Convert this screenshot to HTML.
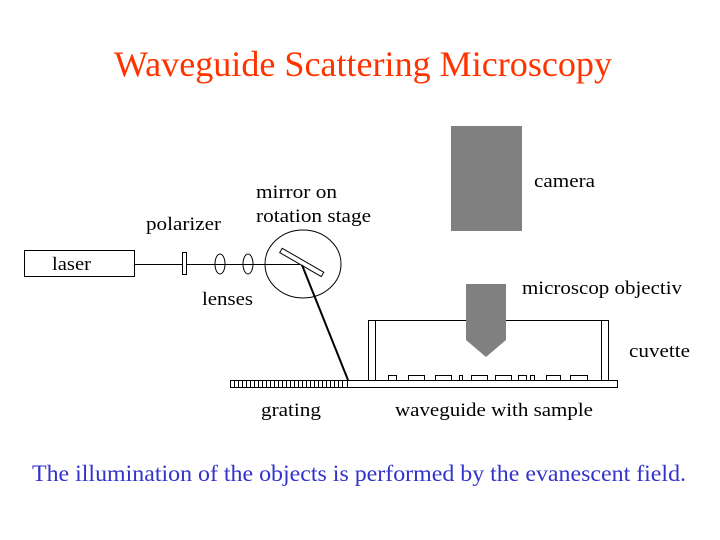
<!DOCTYPE html>
<html><head><meta charset="utf-8"><style>
html,body{margin:0;padding:0;background:#fff;}
svg{display:block}
text{font-family:"Liberation Serif",serif;}
</style></head><body>
<svg width="720" height="540" viewBox="0 0 720 540" xmlns="http://www.w3.org/2000/svg">
<text x="114" y="76" font-size="36" fill="#ff3300" textLength="498" lengthAdjust="spacingAndGlyphs">Waveguide Scattering Microscopy</text>
<text x="32" y="481" font-size="23" fill="#3333cc" textLength="654" lengthAdjust="spacingAndGlyphs">The illumination of the objects is performed by the evanescent field.</text>
<g font-size="19" fill="#000" lengthAdjust="spacingAndGlyphs">
<text x="52" y="270" textLength="39" lengthAdjust="spacingAndGlyphs">laser</text>
<text x="146" y="230" textLength="75" lengthAdjust="spacingAndGlyphs">polarizer</text>
<text x="202" y="305" textLength="51" lengthAdjust="spacingAndGlyphs">lenses</text>
<text x="256" y="198" textLength="81" lengthAdjust="spacingAndGlyphs">mirror on</text>
<text x="256" y="222" textLength="115" lengthAdjust="spacingAndGlyphs">rotation stage</text>
<text x="534" y="187" textLength="61" lengthAdjust="spacingAndGlyphs">camera</text>
<text x="522" y="294" textLength="160" lengthAdjust="spacingAndGlyphs">microscop objectiv</text>
<text x="629" y="357" textLength="61" lengthAdjust="spacingAndGlyphs">cuvette</text>
<text x="261" y="416" textLength="60" lengthAdjust="spacingAndGlyphs">grating</text>
<text x="395" y="416" textLength="198" lengthAdjust="spacingAndGlyphs">waveguide with sample</text>
</g>
<g stroke="#000" stroke-width="1" fill="none">
<rect x="24.5" y="250.5" width="110" height="26"/>
<line x1="134" y1="264.5" x2="303" y2="264.5"/>
<rect x="182.5" y="252.5" width="4" height="22" fill="#fff"/>
<ellipse cx="220" cy="264" rx="5" ry="10"/>
<ellipse cx="248" cy="264" rx="5" ry="10"/>
<ellipse cx="303" cy="264" rx="38" ry="34"/>
<rect x="278" y="260" width="48" height="5" transform="rotate(30 302 262)" fill="#fff"/>
<line x1="302" y1="265" x2="348" y2="380" stroke-width="2"/>
<rect x="347.5" y="380.5" width="270" height="7"/>
<rect x="368.5" y="320.5" width="7" height="60"/>
<rect x="601.5" y="320.5" width="7" height="60"/>
<line x1="375" y1="320.5" x2="601" y2="320.5"/>
<rect x="388.5" y="375.5" width="8" height="5"/>
<rect x="408.5" y="375.5" width="16" height="5"/>
<rect x="435.5" y="375.5" width="16" height="5"/>
<rect x="459.5" y="375.5" width="3" height="5"/>
<rect x="471.5" y="375.5" width="16" height="5"/>
<rect x="495.5" y="375.5" width="16" height="5"/>
<rect x="518.5" y="375.5" width="8" height="5"/>
<rect x="530.5" y="375.5" width="4" height="5"/>
<rect x="546.5" y="375.5" width="14" height="5"/>
<rect x="570.5" y="375.5" width="17" height="5"/>
<rect x="230.5" y="380.5" width="117" height="7"/>
</g>
<g stroke="#000" stroke-width="1">
<path d="M234.5 380v7M238.5 380v7M242.5 380v7M246.5 380v7M250.5 380v7M254.5 380v7M258.5 380v7M262.5 380v7M266.5 380v7M270.5 380v7M274.5 380v7M278.5 380v7M282.5 380v7M286.5 380v7M290.5 380v7M294.5 380v7M298.5 380v7M302.5 380v7M306.5 380v7M310.5 380v7M314.5 380v7M318.5 380v7M322.5 380v7M326.5 380v7M330.5 380v7M334.5 380v7M338.5 380v7M342.5 380v7"/>
</g>
<rect x="451" y="126" width="71" height="105" fill="#808080"/>
<path d="M466 284H506V340L486 357L466 340Z" fill="#808080"/>
</svg>
</body></html>
